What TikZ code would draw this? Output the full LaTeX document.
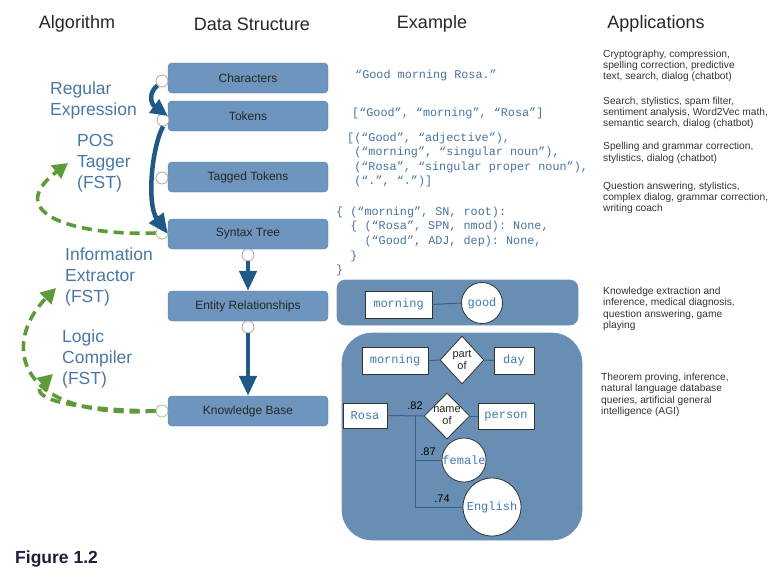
\documentclass[tikz,border=0pt]{standalone}
\usepackage{fontspec}
\setmainfont{Liberation Sans}
\setmonofont{Liberation Mono}
\usetikzlibrary{arrows.meta,shapes.geometric}

\definecolor{boxfill}{HTML}{6E95BD}
\definecolor{boxline}{HTML}{4F78A2}
\definecolor{algoblue}{HTML}{4B77A4}
\definecolor{codeblue}{HTML}{47729E}
\definecolor{flowblue}{HTML}{1F5A86}
\definecolor{flowgreen}{HTML}{5E9A3A}
\definecolor{kgline}{HTML}{3A5F88}
\definecolor{termblue}{HTML}{3F7BAE}
\definecolor{figlabel}{HTML}{1E1E3C}

\tikzset{
  header/.style={font=\fontsize{18}{20}\selectfont, text=black!85},
  structbox/.style={draw=boxline, fill=boxfill, rounded corners=4,
    minimum width=160, minimum height=30, font=\fontsize{12}{14}\selectfont, text=black!85},
  algolabel/.style={anchor=west, align=left, inner sep=0, text=algoblue,
    font=\fontsize{17.5}{21}\selectfont},
  codetext/.style={anchor=west, align=left, inner sep=0, text=codeblue,
    font=\fontsize{11.8}{14.6}\ttfamily},
  apptext/.style={anchor=west, align=left, inner sep=0, text=black!80,
    font=\fontsize{10.2}{11.3}\selectfont},
  panel/.style={draw=boxline!80, fill=boxfill!95!black, line width=0.6},
  term/.style={draw=black!80, fill=white, line width=0.8, inner sep=0,
    minimum height=27, text=termblue, font=\fontsize{12}{14}\ttfamily},
  concept/.style={circle, draw=black!80, fill=white, line width=0.8, inner sep=0,
    text=termblue, font=\fontsize{12}{14}\ttfamily},
  relation/.style={diamond, draw=black!80, fill=white, line width=0.8, inner sep=0,
    align=center, text=black!85, font=\fontsize{11}{12}\selectfont},
  weight/.style={inner sep=0, font=\fontsize{11}{12}\selectfont},
  kgedge/.style={draw=kgline, line width=1},
  dot/.style={circle, draw=gray!70, fill=white, line width=0.8, minimum size=12, inner sep=0},
  greendot/.style={dot, draw=flowgreen!60},
  blueflow/.style={draw=flowblue, line width=4.5, -{Triangle[length=20pt,width=17pt]}},
  greenflow/.style={draw=flowgreen, line width=3.6, dash pattern=on 10pt off 6pt,
    -{Triangle[length=15pt,width=16pt]}}
}

\begin{document}
\begin{tikzpicture}[x=1pt,y=-1pt]
  \useasboundingbox (0,0) rectangle (783,579);

  % column headers
  \node[header] (AlgoHead) at (77,24) {Algorithm};
  \node[header] (StructHead) at (252,24) {Data Structure};
  \node[header] (ExampleHead) at (432,24) {Example};
  \node[header] (AppHead) at (656,24) {Applications};

  % data structures
  \node[structbox] (Characters) at (248,78) {Characters};
  \node[structbox] (Tokens) at (248,116) {Tokens};
  \node[structbox] (Tagged) at (248,177) {Tagged Tokens};
  \node[structbox] (Syntax) at (248,234) {Syntax Tree};
  \node[structbox] (Entity) at (248,306) {Entity Relationships};
  \node[structbox] (Knowledge) at (248,411) {Knowledge Base};

  \node[dot] (CharDot) at (162,81) {};
  \node[dot] (TokDot) at (163,120) {};
  \node[dot] (TagDot) at (162,178) {};
  \node[greendot] (SynDot) at (162,233) {};
  \node[dot] (SynDotS) at (248,255) {};
  \node[dot] (EntDot) at (248,327) {};
  \node[greendot] (KbDot) at (162,411) {};

  % processing arrows
  \draw[blueflow, -{Triangle[length=17pt,width=16pt]}] (CharDot.south west)
    .. controls (149,92) and (150,103) .. (Tokens.west);
  \draw[blueflow] (TokDot.south) .. controls (151,150) and (147,205) .. (Syntax.west);
  \draw[blueflow] (SynDotS.south) -- (Entity.north);
  \draw[blueflow] (EntDot.south) -- (Knowledge.north);

  % algorithms
  \node[algolabel] (RegEx) at (50,100) {Regular\\Expression};
  \node[algolabel] (PosTagger) at (77,163) {POS\\Tagger\\(FST)};
  \node[algolabel] (InfoExtractor) at (65,277) {Information\\Extractor\\(FST)};
  \node[algolabel] (LogicCompiler) at (62,359) {Logic\\Compiler\\(FST)};

  \coordinate (PosTip) at (68,163);
  \coordinate (InfoTip) at (56,288);
  \coordinate (LogicTip) at (53,374);
  \draw[greenflow] (SynDot.west) .. controls (80,236) and (0,215) .. (PosTip);
  \draw[greenflow] (KbDot.west) .. controls (18,420) and (0,345) .. (InfoTip);
  \draw[greenflow] (KbDot.west) .. controls (80,410) and (25,400) .. (LogicTip);

  % examples
  \node[codetext] (CharEx) at (355,75) {“Good morning Rosa.”};
  \node[codetext] (TokEx) at (352,113) {[“Good”, “morning”, “Rosa”]};
  \node[codetext] (TagEx) at (347,160) {[(“Good”, “adjective”),\\
    \hphantom{0}(“morning”, “singular noun”),\\
    \hphantom{0}(“Rosa”, “singular proper noun”),\\
    \hphantom{0}(“.”, “.”)]};
  \node[codetext] (TreeEx) at (336,241.5) {\{ (“morning”, SN, root):\\
    \hphantom{00}\{ (“Rosa”, SPN, nmod): None,\\
    \hphantom{0000}(“Good”, ADJ, dep): None,\\
    \hphantom{00}\}\\
    \}};

  % entity relationships
  \node[panel, rounded corners=8, minimum width=241, minimum height=45] (EntPanel) at (457.5,302.5) {};
  \node[term, minimum width=67] (MorningEnt) at (398.5,304.5) {morning};
  \node[concept, minimum size=41] (Good) at (482,303) {good};
  \draw[kgedge] (MorningEnt.east) -- (Good.west);

  % knowledge base
  \node[panel, rounded corners=30, minimum width=240, minimum height=207] (KbPanel) at (462,436.5) {};
  \node[term, minimum width=66] (MorningKb) at (395,360.5) {morning};
  \node[relation, minimum width=44, minimum height=48] (PartOf) at (462,360) {part\\of};
  \node[term, minimum width=40] (Day) at (514,360.5) {day};
  \node[term, minimum width=44, minimum height=25] (Rosa) at (365,415.5) {Rosa};
  \node[relation, minimum width=42, minimum height=46] (NameOf) at (447,416) {name\\of};
  \node[term, minimum width=56, minimum height=26] (Person) at (506,416) {person};
  \node[concept, minimum size=44] (Female) at (464,460) {female};
  \node[concept, minimum size=58] (English) at (492,507) {English};
  \draw[kgedge] (MorningKb.east) -- (PartOf.west);
  \draw[kgedge] (PartOf.east) -- (Day.west);
  \draw[kgedge] (Rosa.east) -- (NameOf.west);
  \draw[kgedge] (NameOf.east) -- (Person.west);
  \coordinate (RosaFork) at (415,416);
  \draw[kgedge] (RosaFork) |- (Female.west);
  \draw[kgedge] (RosaFork) |- (English.west);
  \node[weight] (NameW) at (415,406) {.82};
  \node[weight] (FemaleW) at (428,452) {.87};
  \node[weight] (EnglishW) at (442,499) {.74};

  % applications
  \node[apptext] (CharApps) at (603,66) {Cryptography, compression,\\spelling correction, predictive\\text, search, dialog (chatbot)};
  \node[apptext] (TokenApps) at (603,113) {Search, stylistics, spam filter,\\sentiment analysis, Word2Vec math,\\semantic search, dialog (chatbot)};
  \node[apptext] (TaggedApps) at (603,153) {Spelling and grammar correction,\\stylistics, dialog (chatbot)};
  \node[apptext] (TreeApps) at (603,198) {Question answering, stylistics,\\complex dialog, grammar correction,\\writing coach};
  \node[apptext] (EntityApps) at (603,309) {Knowledge extraction and\\inference, medical diagnosis,\\question answering, game\\playing};
  \node[apptext] (KbApps) at (601,395) {Theorem proving, inference,\\natural language database\\queries, artificial general\\intelligence (AGI)};

  \node[anchor=west, inner sep=0, text=figlabel, font=\fontsize{17.5}{19}\bfseries] (Caption) at (15,559) {Figure 1.2};
\end{tikzpicture}
\end{document}
